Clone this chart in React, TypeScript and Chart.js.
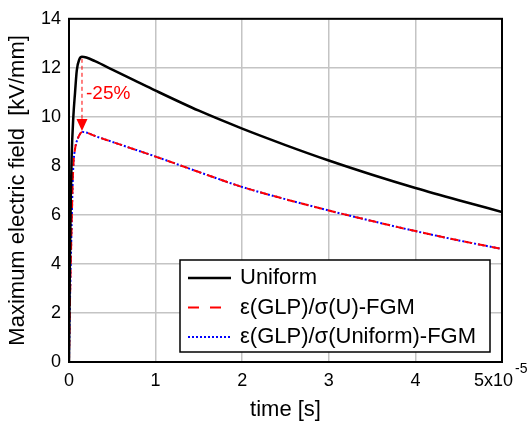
import React, { useEffect, useRef } from "react";
import { Chart, registerables } from "chart.js";

Chart.register(...registerables);

const FONT = '"Liberation Sans", Arial, sans-serif';

// time in units of 1e-5 s
const timeUniform = [0, 0.01, 0.02, 0.03, 0.05, 0.07, 0.09, 0.12, 0.15, 0.2, 0.3, 0.5, 0.75, 1, 1.5, 2, 2.5, 3, 3.5, 4, 4.5, 5];
const fieldUniform = [0, 4, 6.5, 8.3, 10, 11, 11.9, 12.35, 12.45, 12.42, 12.27, 11.93, 11.5, 11.07, 10.25, 9.52, 8.85, 8.22, 7.64, 7.1, 6.6, 6.12];

const timeFGM = [0, 0.01, 0.02, 0.03, 0.04, 0.05, 0.07, 0.1, 0.13, 0.16, 0.2, 0.3, 0.5, 0.75, 1, 1.5, 2, 2.5, 3, 3.5, 4, 4.5, 5];
const fieldFGM_U = [0, 2.2, 4, 5.5, 7, 8, 8.7, 9.1, 9.32, 9.38, 9.36, 9.22, 8.98, 8.68, 8.38, 7.75, 7.14, 6.64, 6.18, 5.75, 5.34, 4.96, 4.61];
const fieldFGM_Uniform = [0, 2.2, 4, 5.5, 7, 8, 8.7, 9.1, 9.32, 9.38, 9.36, 9.22, 8.98, 8.68, 8.38, 7.75, 7.14, 6.64, 6.18, 5.75, 5.34, 4.96, 4.61];

const seriesLabels = ["Uniform", "ε(GLP)/σ(U)-FGM", "ε(GLP)/σ(Uniform)-FGM"];
const xTicks = [0, 1, 2, 3, 4, 5];
const yTicks = [0, 2, 4, 6, 8, 10, 12, 14];
const reductionLabel = "-25%";

const toPts = (xs: number[], ys: number[]) => xs.map((x, i) => ({ x, y: ys[i] }));

const peakOf = (xs: number[], ys: number[]) => {
  let k = 0;
  ys.forEach((v, i) => { if (v > ys[k]) k = i; });
  return { x: xs[k], y: ys[k] };
};

export default function App() {
  const ref = useRef<HTMLCanvasElement | null>(null);

  useEffect(() => {
    const canvas = ref.current;
    if (!canvas) return;

    const overlay = {
      id: "overlay",
      afterDatasetsDraw(chart: any) {
        const ctx = chart.ctx as CanvasRenderingContext2D;
        const ca = chart.chartArea;
        const xs = chart.scales.x;
        const ys = chart.scales.y;
        ctx.save();
        // frame
        ctx.strokeStyle = "#000";
        ctx.lineWidth = 2;
        ctx.strokeRect(ca.left, ca.top, ca.right - ca.left, ca.bottom - ca.top);

        // annotation arrow
        const pU = peakOf(timeUniform, fieldUniform);
        const pF = peakOf(timeFGM, fieldFGM_Uniform);
        const ax = xs.getPixelForValue(pU.x);
        const y0 = ys.getPixelForValue(pU.y) + 2;
        const y1 = ys.getPixelForValue(pF.y) - 1;
        ctx.strokeStyle = "#ff0000";
        ctx.fillStyle = "#ff0000";
        ctx.lineWidth = 1;
        ctx.setLineDash([4, 3]);
        ctx.beginPath();
        ctx.moveTo(ax, y0);
        ctx.lineTo(ax, y1 - 11);
        ctx.stroke();
        ctx.setLineDash([]);
        ctx.beginPath();
        ctx.moveTo(ax - 5.5, y1 - 12);
        ctx.lineTo(ax + 5.5, y1 - 12);
        ctx.lineTo(ax, y1);
        ctx.closePath();
        ctx.fill();
        ctx.font = `19px ${FONT}`;
        ctx.textAlign = "left";
        ctx.textBaseline = "middle";
        ctx.fillText(reductionLabel, ax + 4, (y0 + y1) / 2 - 1);

        // x-axis last label with exponent
        const lastX = xs.getPixelForValue(xTicks[xTicks.length - 1]);
        ctx.fillStyle = "#000";
        ctx.font = `18px ${FONT}`;
        ctx.textAlign = "right";
        ctx.textBaseline = "middle";
        ctx.fillText(`${xTicks[xTicks.length - 1]}x10`, lastX + 11, ca.bottom + 19);
        ctx.font = `14px ${FONT}`;
        ctx.textAlign = "left";
        ctx.fillText("-5", lastX + 13, ca.bottom + 7);

        // legend
        const bw = 310, bh = 92;
        const bx = ca.right - 12 - bw;
        const by = ca.bottom - 10 - bh;
        ctx.fillStyle = "#fff";
        ctx.fillRect(bx, by, bw, bh);
        ctx.strokeStyle = "#000";
        ctx.lineWidth = 1.5;
        ctx.strokeRect(bx, by, bw, bh);
        const styles = [
          { c: "#000000", w: 2.5, d: [] as number[] },
          { c: "#ff0000", w: 2, d: [11, 11] },
          { c: "#0000ff", w: 2, d: [2, 2] },
        ];
        ctx.font = `22px ${FONT}`;
        ctx.textAlign = "left";
        ctx.textBaseline = "middle";
        seriesLabels.forEach((lab, i) => {
          const ry = by + 18 + i * 29.5;
          const s = styles[i];
          ctx.strokeStyle = s.c;
          ctx.lineWidth = s.w;
          ctx.setLineDash(s.d);
          ctx.beginPath();
          ctx.moveTo(bx + 8, ry);
          ctx.lineTo(bx + 51, ry);
          ctx.stroke();
          ctx.setLineDash([]);
          ctx.fillStyle = "#000";
          ctx.fillText(lab, bx + 60, ry);
        });
        ctx.restore();
      },
    };

    const chart = new Chart(canvas, {
      type: "line",
      data: {
        datasets: [
          {
            label: seriesLabels[0],
            data: toPts(timeUniform, fieldUniform),
            borderColor: "#000000",
            borderWidth: 2.5,
            pointRadius: 0,
            cubicInterpolationMode: "monotone",
          },
          {
            label: seriesLabels[1],
            data: toPts(timeFGM, fieldFGM_U),
            borderColor: "#ff0000",
            borderWidth: 2,
            borderDash: [8, 6],
            pointRadius: 0,
            cubicInterpolationMode: "monotone",
          },
          {
            label: seriesLabels[2],
            data: toPts(timeFGM, fieldFGM_Uniform),
            borderColor: "#0000ff",
            borderWidth: 2,
            borderDash: [2, 2],
            pointRadius: 0,
            cubicInterpolationMode: "monotone",
          },
        ],
      },
      options: {
        animation: false,
        responsive: false,
        devicePixelRatio: 1,
        layout: { padding: { left: 0, top: 10, right: 29, bottom: 0 } },
        plugins: { legend: { display: false }, tooltip: { enabled: false } },
        scales: {
          x: {
            type: "linear",
            min: 0,
            max: 5,
            afterFit: (s: any) => { s.height = 69; },
            afterBuildTicks: (s: any) => { s.ticks = xTicks.map((v) => ({ value: v })); },
            ticks: {
              padding: 8,
              color: "#000",
              font: { family: FONT, size: 18 },
              callback: (v: any) => (v === xTicks[xTicks.length - 1] ? "" : String(v)),
              maxRotation: 0,
            },
            grid: { color: "#c4c4c4", lineWidth: 1.5, drawTicks: false },
            border: { display: true, color: "#000", width: 2 },
            title: {
              display: true,
              text: "time [s]",
              color: "#000",
              font: { family: FONT, size: 22 },
              padding: { top: 0, bottom: 8 },
            },
          },
          y: {
            type: "linear",
            min: 0,
            max: 14,
            afterFit: (s: any) => { s.width = 69; },
            afterBuildTicks: (s: any) => { s.ticks = yTicks.map((v) => ({ value: v })); },
            ticks: {
              padding: 8,
              color: "#000",
              font: { family: FONT, size: 18 },
            },
            grid: { color: "#c4c4c4", lineWidth: 1.5, drawTicks: false },
            border: { display: true, color: "#000", width: 2 },
            title: {
              display: true,
              text: "Maximum electric field  [kV/mm]",
              color: "#000",
              font: { family: FONT, size: 22 },
              padding: { top: 5, bottom: 0 },
            },
          },
        },
      },
      plugins: [overlay],
    } as any);

    return () => chart.destroy();
  }, []);

  return (
    <div style={{ position: "fixed", left: 0, top: 0, width: 531, height: 431, background: "#fff" }}>
      <canvas ref={ref} width={531} height={431} style={{ display: "block" }} />
    </div>
  );
}
